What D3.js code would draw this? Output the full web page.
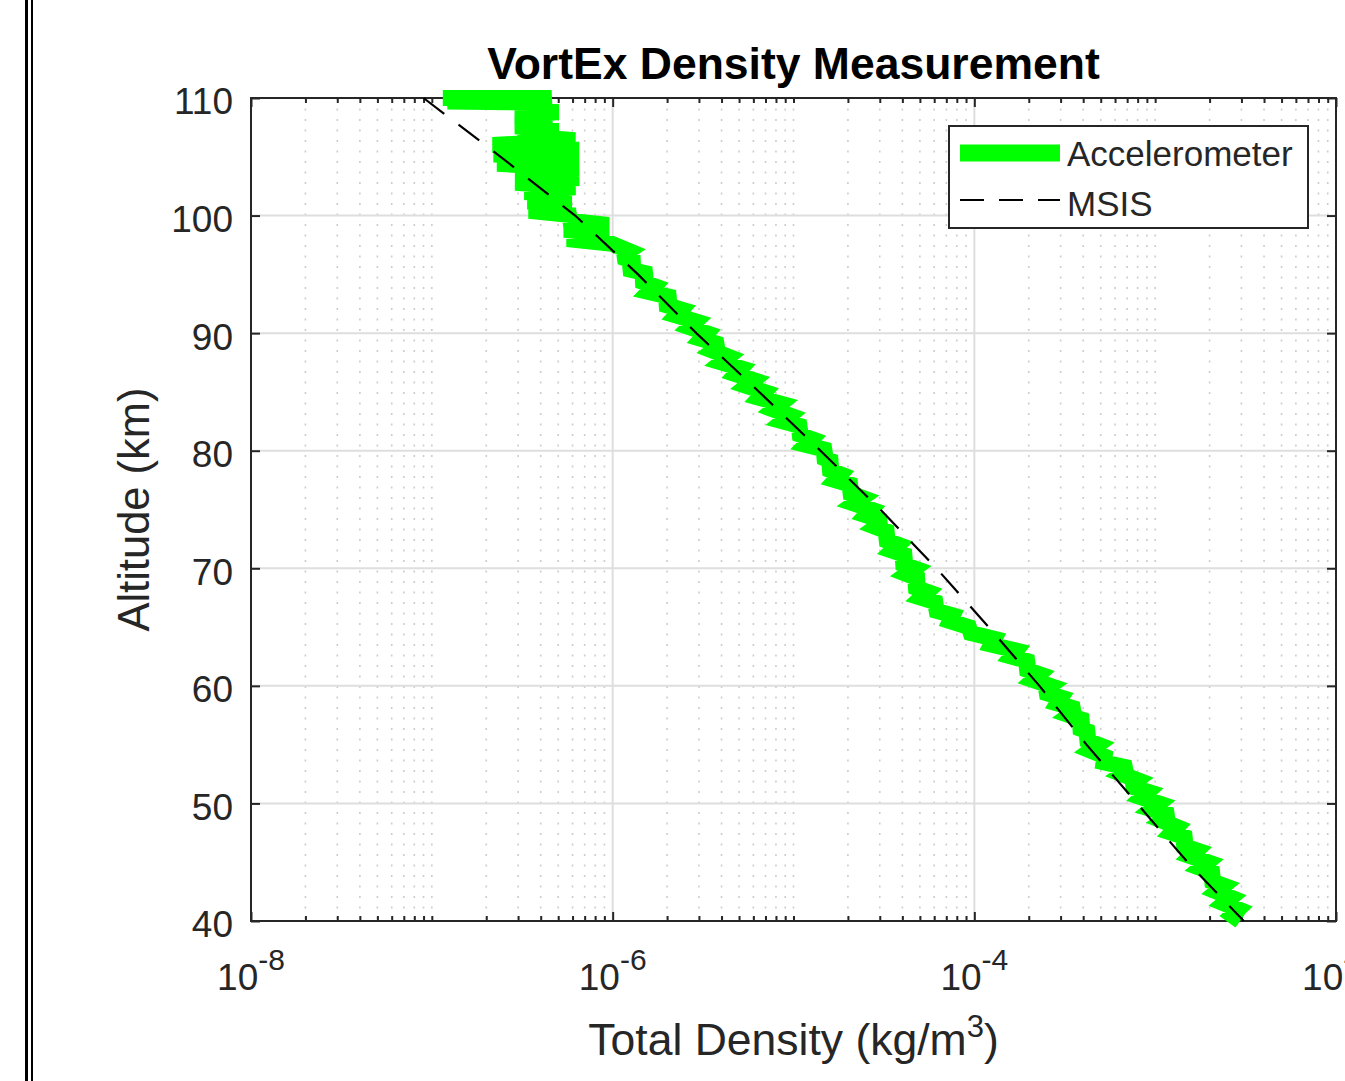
<!DOCTYPE html>
<html lang="en">
<head>
<meta charset="UTF-8">
<script src="https://d3js.org/d3.v7.min.js"></script>
<title>VortEx Density Measurement</title>
<style>
  body { margin: 0; background: #fff; }
  svg { display: block; }
  text { font-family: "Liberation Sans", Arial, Helvetica, sans-serif; fill: #262626; }
</style>
</head>
<body>
<script>
// accelerometer profile (altitude in km, total density in kg/m^3)
const accelAltitude = [
  110.0, 110.0, 109.7, 109.6, 109.2, 108.8, 108.4, 108.0, 107.6, 107.2,
  106.8, 106.4, 106.0, 105.6, 105.2, 104.8, 104.4, 104.0, 103.6, 103.2,
  102.8, 102.4, 102.0, 101.6, 101.2, 100.8, 100.4, 100.0, 99.6, 99.2,
  98.8, 98.4, 98.0, 97.6,
  97.0, 96.5, 96.0, 95.5, 95.0, 94.5, 94.0, 93.5, 93.0, 92.5,
  92.0, 91.5, 91.0, 90.5, 90.0, 89.5, 89.0, 88.5, 88.0, 87.5,
  87.0, 86.5, 86.0, 85.5, 85.0, 84.5, 84.0, 83.5, 83.0, 82.5,
  82.0, 81.5, 81.0, 80.5, 80.0, 79.5, 79.0, 78.5, 78.0, 77.5,
  77.0, 76.5, 76.0, 75.5, 75.0, 74.5, 74.0, 73.5, 73.0, 72.5,
  72.0, 71.5, 71.0, 70.5, 70.0, 69.5, 69.0, 68.5, 68.0, 67.5,
  67.0, 66.5, 66.0, 65.5, 65.0, 64.5, 64.0, 63.5, 63.0, 62.5,
  62.0, 61.5, 61.0, 60.5, 60.0, 59.5, 59.0, 58.5, 58.0, 57.5,
  57.0, 56.5, 56.0, 55.5, 55.0, 54.5, 54.0, 53.5, 53.0, 52.5,
  52.0, 51.5, 51.0, 50.5, 50.0, 49.5, 49.0, 48.5, 48.0, 47.5,
  47.0, 46.5, 46.0, 45.5, 45.0, 44.5, 44.0, 43.5, 43.0, 42.5,
  42.0, 41.5, 41.0, 40.5, 40.0
];
const accelDensity = [
  1.15e-7, 4.6e-7, 1.22e-7, 4.6e-7, 2.9e-7, 5.0e-7, 2.9e-7, 4.6e-7, 2.9e-7, 5.0e-7,
  3.0e-7, 6.2e-7, 2.17e-7, 6.5e-7, 2.2e-7, 6.5e-7, 2.3e-7, 6.5e-7, 2.9e-7, 6.5e-7,
  2.9e-7, 6.2e-7, 3.27e-7, 5.9e-7, 3.4e-7, 5.9e-7, 3.45e-7, 6.2e-7, 5.4e-7, 9.5e-7,
  5.4e-7, 9.5e-7, 5.6e-7, 9.9e-7,
  1.23e-6, 1.10e-6, 1.38e-6, 1.17e-6, 1.62e-6, 1.38e-6, 1.70e-6, 1.58e-6, 2.19e-6, 1.86e-6,
  2.40e-6, 2.24e-6, 2.88e-6, 2.66e-6, 3.31e-6, 3.09e-6, 3.98e-6, 3.59e-6, 4.37e-6, 3.98e-6,
  5.13e-6, 4.79e-6, 6.03e-6, 5.50e-6, 6.92e-6, 6.46e-6, 8.51e-6, 7.76e-6, 9.55e-6, 8.71e-6,
  1.15e-5, 1.02e-5, 1.26e-5, 1.17e-5, 1.58e-5, 1.40e-5, 1.70e-5, 1.50e-5, 1.82e-5, 1.70e-5,
  2.19e-5, 1.95e-5, 2.40e-5, 2.16e-5, 2.69e-5, 2.51e-5, 3.16e-5, 2.85e-5, 3.47e-5, 3.09e-5,
  3.80e-5, 3.51e-5, 4.37e-5, 3.80e-5, 4.68e-5, 4.22e-5, 5.13e-5, 4.47e-5, 5.50e-5, 5.07e-5,
  6.46e-5, 5.82e-5, 7.59e-5, 7.33e-5, 9.33e-5, 9.55e-5, 1.29e-4, 1.24e-4, 1.70e-4, 1.60e-4,
  2.09e-4, 1.84e-4, 2.29e-4, 2.11e-4, 2.63e-4, 2.37e-4, 3.02e-4, 2.88e-4, 3.72e-4, 3.35e-4,
  4.17e-4, 3.63e-4, 4.47e-4, 3.98e-4, 4.84e-4, 4.37e-4, 5.25e-4, 5.19e-4, 7.24e-4, 6.53e-4,
  7.94e-4, 7.16e-4, 9.12e-4, 8.41e-4, 1.05e-3, 9.55e-4, 1.23e-3, 1.10e-3, 1.32e-3, 1.23e-3,
  1.55e-3, 1.36e-3, 1.70e-3, 1.57e-3, 1.95e-3, 1.78e-3, 2.19e-3, 1.95e-3, 2.40e-3, 2.19e-3,
  2.63e-3, 2.40e-3, 2.88e-3, 2.66e-3, 2.95e-3
];

// MSIS model profile
const msisAltitude = [110, 105, 100, 95, 90, 85, 80, 75, 70, 65, 60, 55, 50, 45, 40];
const msisDensity = [9.0e-8, 2.4e-7, 6.2e-7, 1.38e-6, 2.9e-6, 6.46e-6, 1.41e-5, 3.02e-5,
                     6.17e-5, 1.20e-4, 2.29e-4, 4.17e-4, 7.94e-4, 1.51e-3, 3.09e-3];

// axes
const densityTicks = [1e-8, 1e-6, 1e-4, 1e-2];
const densityTickExponents = ["-8", "-6", "-4", "-2"];
const densityDecades = [1e-8, 1e-7, 1e-6, 1e-5, 1e-4, 1e-3];
const minorMultipliers = [1, 2, 3, 4, 5, 6, 7, 8, 9];
const altitudeTicks = [40, 50, 60, 70, 80, 90, 100, 110];
const seriesNames = ["Accelerometer", "MSIS"];

const width = 1345;
const height = 1081;
const plotLeft = 251, plotRight = 1336, plotTop = 98, plotBottom = 921;
const axisColor = "#262626";

const x = d3.scaleLog().domain([1e-8, 1e-2]).range([plotLeft, plotRight]);
const y = d3.scaleLinear().domain([40, 110]).range([plotBottom, plotTop]);

const minorTicks = [];
densityDecades.forEach(d => minorMultipliers.forEach(m => {
    const v = d * m;
    if (!densityTicks.some(t => Math.abs(t - v) / t < 1e-6)) minorTicks.push(v);
}));

const svg = d3.select("body").append("svg")
    .attr("width", width)
    .attr("height", height);

// page border on the left
svg.append("rect").attr("x", 25).attr("y", 0).attr("width", 3).attr("height", height).attr("fill", "#000");
svg.append("rect").attr("x", 31).attr("y", 0).attr("width", 2).attr("height", height).attr("fill", "#000");

// grid
const grid = svg.append("g");
grid.selectAll("line.minor").data(minorTicks).join("line")
    .attr("class", "minor")
    .attr("x1", d => x(d)).attr("x2", d => x(d))
    .attr("y1", plotTop).attr("y2", plotBottom)
    .attr("stroke", "#cdcdcd").attr("stroke-width", 1.6)
    .attr("stroke-dasharray", "2,8.5");
grid.selectAll("line.vmajor").data(densityTicks.slice(1, -1)).join("line")
    .attr("class", "vmajor")
    .attr("x1", d => x(d)).attr("x2", d => x(d))
    .attr("y1", plotTop).attr("y2", plotBottom)
    .attr("stroke", "#dedede").attr("stroke-width", 2);
grid.selectAll("line.hmajor").data(altitudeTicks.slice(1, -1)).join("line")
    .attr("class", "hmajor")
    .attr("x1", plotLeft).attr("x2", plotRight)
    .attr("y1", d => y(d)).attr("y2", d => y(d))
    .attr("stroke", "#dedede").attr("stroke-width", 2);

// ticks (inward, MATLAB style)
const styleAxis = g => {
    g.select(".domain").remove();
    g.selectAll(".tick line").attr("stroke", axisColor).attr("stroke-width", 2);
};
svg.append("g").attr("transform", `translate(0,${plotBottom})`)
    .call(d3.axisBottom(x).tickValues(densityTicks).tickSize(-9).tickFormat(() => ""))
    .call(styleAxis);
svg.append("g").attr("transform", `translate(0,${plotBottom})`)
    .call(d3.axisBottom(x).tickValues(minorTicks).tickSize(-5).tickFormat(() => ""))
    .call(styleAxis);
svg.append("g").attr("transform", `translate(0,${plotTop})`)
    .call(d3.axisTop(x).tickValues(densityTicks).tickSize(-9).tickFormat(() => ""))
    .call(styleAxis);
svg.append("g").attr("transform", `translate(0,${plotTop})`)
    .call(d3.axisTop(x).tickValues(minorTicks).tickSize(-5).tickFormat(() => ""))
    .call(styleAxis);
svg.append("g").attr("transform", `translate(${plotRight},0)`)
    .call(d3.axisRight(y).tickValues(altitudeTicks).tickSize(-9).tickFormat(() => ""))
    .call(styleAxis);

const yAxis = svg.append("g").attr("transform", `translate(${plotLeft},0)`)
    .call(d3.axisLeft(y).tickValues(altitudeTicks).tickSize(-9).tickPadding(18))
    .call(styleAxis);
yAxis.attr("font-family", null).attr("font-size", null);
yAxis.selectAll(".tick text")
    .attr("fill", axisColor)
    .attr("font-size", 37)
    .attr("dy", "0.43em");

// box
svg.append("rect")
    .attr("x", plotLeft).attr("y", plotTop)
    .attr("width", plotRight - plotLeft).attr("height", plotBottom - plotTop)
    .attr("fill", "none").attr("stroke", axisColor).attr("stroke-width", 2);

// x tick labels 10^n
svg.selectAll("text.xtick").data(densityTicks).join("text")
    .attr("class", "xtick")
    .attr("x", d => x(d))
    .attr("y", 990)
    .attr("text-anchor", "middle")
    .attr("font-size", 37)
    .each(function (d, i) {
        const t = d3.select(this);
        t.append("tspan").text("10");
        t.append("tspan").attr("dy", -20).attr("font-size", 30).text(densityTickExponents[i]);
    });

// data
const line = d3.line().x(d => x(d.density)).y(d => y(d.alt));
const accelPoints = accelAltitude.map((a, i) => ({ alt: a, density: accelDensity[i] }));
const msisPoints = msisAltitude.map((a, i) => ({ alt: a, density: msisDensity[i] }));

svg.append("path")
    .datum(accelPoints)
    .attr("d", line)
    .attr("fill", "none")
    .attr("stroke", "#00ff00")
    .attr("stroke-width", 16)
    .attr("stroke-linejoin", "miter")
    .attr("stroke-miterlimit", 2.2);

svg.append("path")
    .datum(msisPoints)
    .attr("d", line)
    .attr("fill", "none")
    .attr("stroke", "#000")
    .attr("stroke-width", 2.2)
    .attr("stroke-dasharray", "26,18");

// title and labels
svg.append("text")
    .attr("x", (plotLeft + plotRight) / 2)
    .attr("y", 79)
    .attr("text-anchor", "middle")
    .attr("font-size", 44.5)
    .attr("font-weight", "bold")
    .style("fill", "#000")
    .text("VortEx Density Measurement");

svg.append("text")
    .attr("transform", `translate(149,${(plotTop + plotBottom) / 2}) rotate(-90)`)
    .attr("text-anchor", "middle")
    .attr("font-size", 43.5)
    .text("Altitude (km)");

const xLabel = svg.append("text")
    .attr("x", (plotLeft + plotRight) / 2)
    .attr("y", 1055)
    .attr("text-anchor", "middle")
    .attr("font-size", 44.5);
xLabel.append("tspan").text("Total Density (kg/m");
xLabel.append("tspan").attr("dy", -18).attr("font-size", 31).text("3");
xLabel.append("tspan").attr("dy", 18).text(")");

// legend
const legend = svg.append("g");
legend.append("rect")
    .attr("x", 949).attr("y", 126).attr("width", 359).attr("height", 102)
    .attr("fill", "#fff").attr("stroke", axisColor).attr("stroke-width", 2);
legend.append("line")
    .attr("x1", 960).attr("x2", 1060).attr("y1", 153).attr("y2", 153)
    .attr("stroke", "#00ff00").attr("stroke-width", 17);
legend.append("line")
    .attr("x1", 960).attr("x2", 1060).attr("y1", 200).attr("y2", 200)
    .attr("stroke", "#000").attr("stroke-width", 2.2).attr("stroke-dasharray", "24,15");
legend.selectAll("text.entry").data(seriesNames).join("text")
    .attr("class", "entry")
    .attr("x", 1067)
    .attr("y", (d, i) => 166 + i * 50)
    .attr("font-size", 35)
    .text(d => d);
</script>
</body>
</html>
